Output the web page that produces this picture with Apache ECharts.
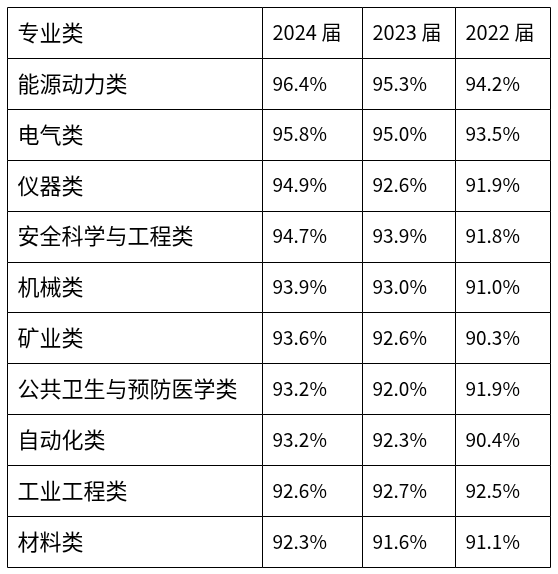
<!DOCTYPE html>
<html><head><meta charset="utf-8">
<script src="https://cdn.jsdelivr.net/npm/echarts@6/dist/echarts.min.js"></script>
<style>html,body{margin:0;padding:0;background:#fff}#c{width:558px;height:574px}</style>
</head><body><div id="c"></div>
<script>
const headers = ['专业类', '2024 届', '2023 届', '2022 届'];
const categories = ['能源动力类','电气类','仪器类','安全科学与工程类','机械类','矿业类','公共卫生与预防医学类','自动化类','工业工程类','材料类'];
const y2024 = ['96.4%','95.8%','94.9%','94.7%','93.9%','93.6%','93.2%','93.2%','92.6%','92.3%'];
const y2023 = ['95.3%','95.0%','92.6%','93.9%','93.0%','92.6%','92.0%','92.3%','92.7%','91.6%'];
const y2022 = ['94.2%','93.5%','91.9%','91.8%','91.0%','90.3%','91.9%','90.4%','92.5%','91.1%'];

const colEdges = [0, 0.4696, 0.6538, 0.8250, 1];
const rows = [headers].concat(categories.map((c, i) => [c, y2024[i], y2023[i], y2022[i]]));
const rowNames = rows.map((r, i) => 'r' + i);
const data = [];
rows.forEach((r, ri) => r.forEach((t, ci) => data.push([ci, ri, t])));

const chart = echarts.init(document.getElementById('c'));
chart.setOption({
  animation: false,
  grid: { left: 7, top: 7, right: 8, bottom: 7 },
  xAxis: { type: 'value', min: 0, max: 1, show: false },
  yAxis: { type: 'category', data: rowNames, inverse: true, show: false },
  series: [{
    type: 'custom',
    data: data,
    renderItem: function (params, api) {
      const ci = api.value(0), ri = api.value(1);
      const h = api.size([0, 1])[1];
      const p0 = api.coord([colEdges[ci], ri]);
      const p1 = api.coord([colEdges[ci + 1], ri]);
      const x = Math.round(p0[0]) + 0.5, w = Math.round(p1[0]) - Math.round(p0[0]);
      const yTop = Math.round(p0[1] - h / 2) + 0.5;
      const size = ci === 0 ? 22 : (ri === 0 ? 20 : 19);
      return {
        type: 'group',
        children: [
          { type: 'rect', shape: { x: x, y: yTop, width: w, height: Math.round(h) },
            style: { fill: '#fff', stroke: '#000', lineWidth: 1 } },
          { type: 'text', x: x + 10, y: p0[1],
            style: { text: data[params.dataIndex][2], fill: '#000',
              font: size + 'px "Noto Sans CJK SC", "Noto Sans", sans-serif',
              verticalAlign: 'middle', align: 'left' } }
        ]
      };
    }
  }]
});
</script></body></html>
